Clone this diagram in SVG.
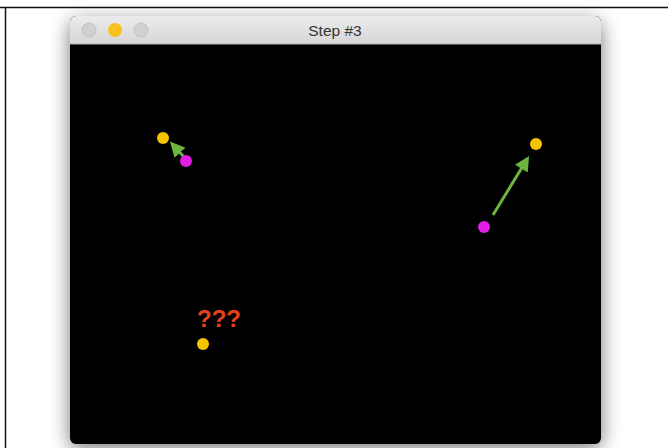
<svg xmlns="http://www.w3.org/2000/svg" width="668" height="448" viewBox="0 0 668 448">
<style>
.y{fill:#f5c400}
.m{fill:#e21ee2}
.arr{stroke:#6db33f;stroke-width:3;fill:none}
</style>
<defs>
<filter id="sh" x="-20%" y="-20%" width="140%" height="140%">
<feGaussianBlur stdDeviation="10"/>
</filter>
<linearGradient id="tb" x1="0" y1="0" x2="0" y2="1">
<stop offset="0" stop-color="#ececec"/>
<stop offset="1" stop-color="#d6d6d6"/>
</linearGradient>
<marker id="ah" markerWidth="5" markerHeight="5" refX="3" refY="2.5" orient="auto" markerUnits="strokeWidth">
<path d="M0,0 L5,2.5 L0,5 Z" fill="#6db33f"/>
</marker>
</defs>
<rect width="668" height="448" fill="#ffffff"/>
<line x1="0" y1="7.5" x2="668" y2="7.5" stroke="#111" stroke-width="1.5"/>
<line x1="5.5" y1="7" x2="5.5" y2="448" stroke="#111" stroke-width="1.5"/>
<rect x="70" y="22" width="531" height="426" rx="6" fill="#000" opacity="0.55" filter="url(#sh)"/>
<g id="window">
<rect x="70" y="16" width="531" height="428" rx="6" fill="#000"/>
<path d="M70,44 V22 a6,6 0 0 1 6,-6 H595 a6,6 0 0 1 6,6 V44 Z" fill="url(#tb)"/>
<line x1="70" y1="44" x2="601" y2="44" stroke="#b0b0b0" stroke-width="1"/>
<circle cx="89" cy="30" r="7" fill="#d0d0d0" stroke="#c2c2c2"/>
<circle cx="115" cy="30" r="7" fill="#f8c21e"/>
<circle cx="141" cy="30" r="7" fill="#d0d0d0" stroke="#c2c2c2"/>
<text x="335" y="36" text-anchor="middle" font-family="Liberation Sans, Arial, sans-serif" font-size="15.5" fill="#333">Step #3</text>
</g>
<g id="connectors">
<line class="arr" x1="184" y1="157" x2="174" y2="146" marker-end="url(#ah)"/>
<line class="arr" x1="493" y1="215" x2="526" y2="161" marker-end="url(#ah)"/>
</g>
<g id="p1"><circle class="y" cx="163" cy="138" r="6"/></g>
<g id="p2"><circle class="m" cx="186" cy="161" r="6"/></g>
<g id="p3"><circle class="y" cx="536" cy="144" r="6"/></g>
<g id="p4"><circle class="m" cx="484" cy="227" r="6"/></g>
<g id="p5"><circle class="y" cx="203" cy="344" r="6"/></g>
<g id="label"><text x="219" y="327" text-anchor="middle" font-family="Liberation Sans, Arial, sans-serif" font-weight="bold" font-size="24" fill="#e8401c">???</text></g>
</svg>
